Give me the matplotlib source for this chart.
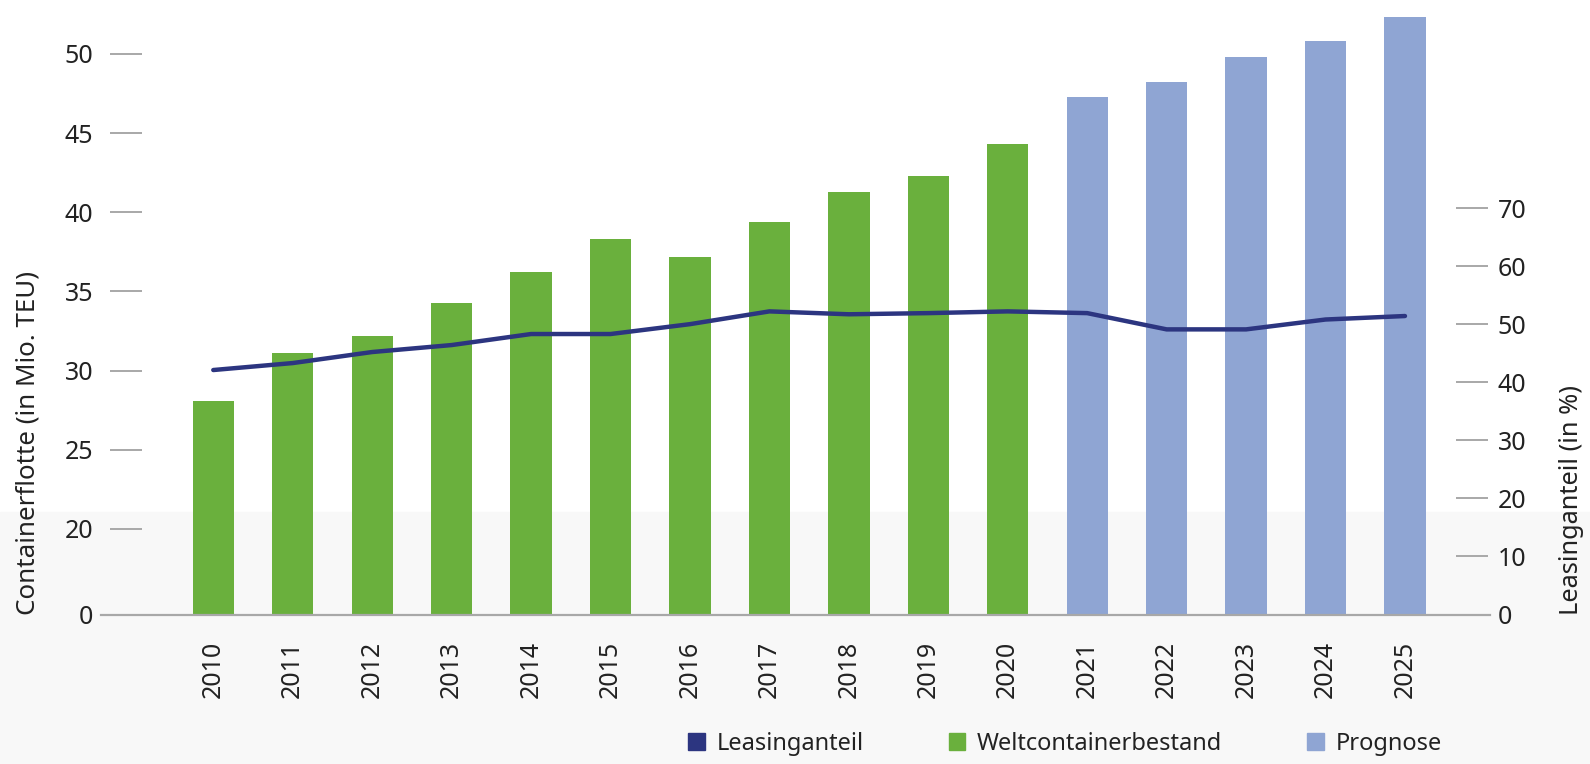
import numpy as np
import matplotlib.pyplot as plt
from matplotlib.patches import Patch, Rectangle

plt.rcParams["font.family"] = ["Noto Sans", "DejaVu Sans"]

# -------------------------------------------------------------
# Data
# -------------------------------------------------------------
years = [str(y) for y in range(2010, 2026)]
bestand = [28.1, 31.1, 32.2, 34.3, 36.2, 38.3, 37.2, 39.4, 41.3, 42.3, 44.3]
prognose = [47.3, 48.2, 49.8, 50.8, 52.3]
leasing = [42.1, 43.3, 45.2, 46.4, 48.3, 48.3, 50.0, 52.2, 51.7, 51.9, 52.2,
           51.9, 49.1, 49.1, 50.8, 51.4]

left_ticks = [0, 20, 25, 30, 35, 40, 45, 50]
right_ticks = [0, 10, 20, 30, 40, 50, 60, 70]

GREEN = "#6ab03d"
BLUE = "#8fa5d3"
NAVY = "#2c3580"
GRAY = "#a8a8a8"
TEXT = "#222222"

# broken left axis: 0..20 squeezed into roughly one 5-unit step
GAP = 1.08


def fwd(v):
    v = np.asarray(v, dtype=float)
    return np.where(v < 20, v / 20 * GAP, GAP + (v - 20) / 5)


def inv(u):
    u = np.asarray(u, dtype=float)
    return np.where(u < GAP, u / GAP * 20, 20 + (u - GAP) * 5)


fig = plt.figure(figsize=(15.9, 7.64), dpi=100)
fig.patches.append(Rectangle((0, 0), 1, 252 / 764, transform=fig.transFigure,
                             color="#f8f8f8", zorder=-10))

W, H = 1590, 764
ax = fig.add_axes([110 / W, (H - 614.5) / H, (1488 - 110) / W, (614.5 - 10) / H])
ax.patch.set_visible(False)
ax.set_yscale("function", functions=(fwd, inv))

x = np.arange(len(years))
nb = len(bestand)
ax.bar(x[:nb], bestand, width=0.52, color=GREEN, zorder=2)
ax.bar(x[nb:], prognose, width=0.52, color=BLUE, zorder=2)

ax.set_xlim(-1.30, len(years) - 1 + 1.045)
ax.set_ylim(0, 52.77)
ax.set_xticks(x)
ax.set_xticklabels(years, rotation=90, fontsize=18, color=TEXT)
ax.tick_params(axis="x", length=0, pad=19)
ax.set_yticks(left_ticks)
ax.set_yticklabels([str(t) for t in left_ticks], fontsize=18, color=TEXT)
ax.tick_params(axis="y", direction="in", length=23, width=1.4, color=GRAY, pad=12)
for s in ax.spines.values():
    s.set_visible(False)
ax.axhline(0, xmin=-0.0065, xmax=1.0015, color=GRAY, lw=1.6, clip_on=False, zorder=3)

# right axis: Leasinganteil
ax2 = ax.twinx()
ax2.patch.set_visible(False)
ax2.plot(x, leasing, color=NAVY, lw=3.2, solid_joinstyle="round",
         solid_capstyle="round", zorder=4)
ax2.set_ylim(0, 104.1)
ax2.set_yticks(right_ticks)
ax2.set_yticklabels([str(t) for t in right_ticks], fontsize=18, color=TEXT)
ax2.tick_params(axis="y", direction="in", length=23, width=1.4, color=GRAY, pad=7)
for s in ax2.spines.values():
    s.set_visible(False)

fig.text(28 / W, (H - 615) / H, "Containerflotte (in Mio. TEU)", rotation=90,
         ha="center", va="bottom", fontsize=18.7, color=TEXT)
fig.text(1572 / W, (H - 615) / H, "Leasinganteil (in %)", rotation=90,
         ha="center", va="bottom", fontsize=18.3, color=TEXT)

handles = [Patch(color=NAVY), Patch(color=GREEN), Patch(color=BLUE)]
fig.legend(handles, ["Leasinganteil", "Weltcontainerbestand", "Prognose"],
           loc="center", bbox_to_anchor=(1065 / W, 20 / H), ncol=3, frameon=False,
           fontsize=17, handlelength=0.7, handleheight=0.7, handletextpad=0.5,
           columnspacing=3.6, labelcolor=TEXT)

fig.savefig("out.png", dpi=100)
